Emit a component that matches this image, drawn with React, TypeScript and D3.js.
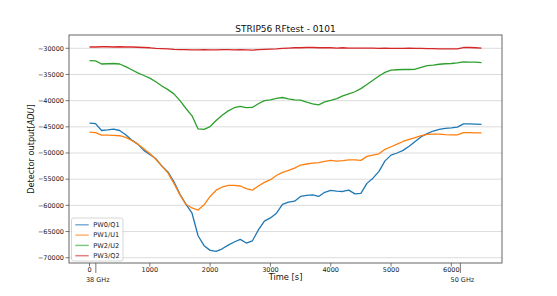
import React from "react";
import * as d3 from "d3";

// time axis in seconds, one sample every 100 s
const times = d3.range(0, 6501, 100);

const pw0q1 = [
  -44300, -44400, -45700, -45600, -45450, -45700, -46500, -47500, -48300, -49500,
  -50300, -51100, -52500, -53600, -55500, -57900, -59800, -61500, -65800, -67700,
  -68600, -68800, -68300, -67600, -67000, -66500, -67200, -66800, -64700, -63000,
  -62400, -61500, -59800, -59400, -59200, -58300, -58100, -58000, -58300, -57500,
  -57150, -57300, -57350, -57100, -57800, -57700, -55800, -54800, -53500, -51500,
  -50400, -50000, -49500, -48700, -47800, -46900, -46300, -45800, -45500, -45300,
  -45200, -45050, -44450, -44450, -44500, -44550,
];

const pw1u1 = [
  -46000, -46100, -46600, -46600, -46650, -46700, -47000, -47600, -48300, -49200,
  -50100, -51200, -52500, -53800, -55800, -58000, -59800, -60500, -60900, -59900,
  -58300, -57100, -56500, -56200, -56200, -56300, -56800, -57100, -56300, -55600,
  -55100, -54300, -53700, -53300, -52900, -52300, -52100, -51950, -51850, -51600,
  -51400, -51550, -51450, -51300, -51300, -51400, -50650, -50400, -50150, -49300,
  -48800, -48300, -47800, -47400, -47050, -46700, -46450, -46400, -46400, -46500,
  -46550, -46550, -46100, -46100, -46150, -46150,
];

const pw2u2 = [
  -32350, -32400, -33000, -32950, -32900, -33000, -33500, -34100, -34700, -35200,
  -35700, -36400, -37200, -37900, -38700, -40000, -41500, -42900, -45400, -45500,
  -44950, -43800, -42800, -41950, -41350, -41100, -41350, -41300, -40600, -40000,
  -39850, -39550, -39400, -39650, -39850, -39900, -40300, -40600, -40800, -40250,
  -39950, -39600, -39100, -38700, -38300, -37700, -36900, -36100, -35300, -34600,
  -34150, -34100, -34050, -34050, -34000, -33650, -33300, -33200, -33050, -32950,
  -32900, -32800, -32600, -32650, -32650, -32750,
];

const pw3q2 = [
  -29750, -29750, -29700, -29700, -29750, -29700, -29750, -29750, -29800, -29850,
  -29900, -30000, -30050, -30100, -30200, -30250, -30250, -30300, -30300, -30250,
  -30300, -30300, -30250, -30250, -30300, -30250, -30300, -30350, -30250, -30200,
  -30150, -30100, -30000, -29950, -29900, -29900, -29850, -29850, -29900, -29900,
  -29900, -29950, -29900, -29950, -29950, -29950, -29950, -29950, -30000, -29950,
  -30000, -30000, -30000, -29950, -30000, -30000, -30050, -30050, -30100, -30100,
  -30100, -30100, -29850, -29850, -29900, -29950,
];

const seriesNames = ["PW0/Q1", "PW1/U1", "PW2/U2", "PW3/Q2"];
const seriesValues = [pw0q1, pw1u1, pw2u2, pw3q2];
const colors = ["#1f77b4", "#ff7f0e", "#2ca02c", "#d62728"];

const xTicks = [0, 1000, 2000, 3000, 4000, 5000, 6000];
const yTicks = [-70000, -65000, -60000, -55000, -50000, -45000, -40000, -35000, -30000];
const freqTicks = [105, 6150];
const freqLabels = ["38 GHz", "50 GHz"];

const width = 557;
const height = 296;
const margin = { top: 35, right: 55, bottom: 33, left: 69 };
const font = "DejaVu Sans, sans-serif";

const fmt = (v: number) => (v < 0 ? "\u2212" + Math.abs(v) : String(v));

const App = () => {
  const x = d3.scaleLinear().domain([-340, 6840]).range([margin.left, width - margin.right]);
  const y = d3.scaleLinear().domain([-71010, -27460]).range([height - margin.bottom, margin.top]);

  const line = d3
    .line<number>()
    .x((d, i) => x(times[i]))
    .y((d) => y(d));

  const x0 = margin.left;
  const x1 = width - margin.right;
  const y0 = height - margin.bottom;
  const y1 = margin.top;

  return (
    <svg
      width={width}
      height={height}
      style={{ position: "absolute", left: 0, top: 0, background: "#fff" }}
      fontFamily={font}
    >
      {/* grid */}
      {yTicks.map((t) => (
        <line key={"g" + t} x1={x0} x2={x1} y1={y(t)} y2={y(t)} stroke="#dcdcdc" strokeWidth={1} />
      ))}

      {/* series */}
      {seriesValues.map((vals, i) => (
        <path
          key={seriesNames[i]}
          d={line(vals) || ""}
          fill="none"
          stroke={colors[i]}
          strokeWidth={1.3}
          strokeLinejoin="round"
        />
      ))}

      {/* frame */}
      <rect x={x0} y={y1} width={x1 - x0} height={y0 - y1} fill="none" stroke="#555" strokeWidth={0.9} />

      {/* y axis */}
      {yTicks.map((t) => (
        <g key={"y" + t}>
          <line x1={x0 - 3.5} x2={x0} y1={y(t)} y2={y(t)} stroke="#555" strokeWidth={0.8} />
          <text x={x0 - 5} y={y(t)} dy="0.35em" textAnchor="end" fontSize={6.5} fill="#222">
            {fmt(t)}
          </text>
        </g>
      ))}

      {/* x axis */}
      {xTicks.map((t) => (
        <g key={"x" + t}>
          <line x1={x(t)} x2={x(t)} y1={y0} y2={y0 + 3.5} stroke="#555" strokeWidth={0.8} />
          <text x={x(t)} y={y0 + 8.5} textAnchor="middle" fontSize={6.5} fill="#222">
            {fmt(t)}
          </text>
        </g>
      ))}

      {/* frequency ticks */}
      {freqTicks.map((t, i) => (
        <g key={"f" + t}>
          <line x1={x(t)} x2={x(t)} y1={y0} y2={y0 + 10} stroke="#555" strokeWidth={0.8} />
          <text x={x(t) + 2} y={y0 + 18.5} textAnchor="middle" fontSize={6.5} fill="#222">
            {freqLabels[i]}
          </text>
        </g>
      ))}

      {/* labels */}
      <text x={(x0 + x1) / 2} y={32} textAnchor="middle" fontSize={9} fill="#111">
        STRIP56 RFtest - 0101
      </text>
      <text x={(x0 + x1) / 2} y={280} textAnchor="middle" fontSize={8.3} fill="#111">
        Time [s]
      </text>
      <text
        transform={`translate(34, ${(y0 + y1) / 2}) rotate(-90)`}
        textAnchor="middle"
        fontSize={8.2}
        fill="#111"
      >
        Detector output[<tspan fontStyle="italic">ADU</tspan>]
      </text>

      {/* legend */}
      <g>
        <rect x={71.5} y={218} width={51.5} height={43} rx={2} fill="#fff" fillOpacity={0.85} stroke="#ccc" strokeWidth={0.8} />
        {seriesNames.map((n, i) => (
          <g key={"l" + n}>
            <line
              x1={75.3}
              x2={88.7}
              y1={224.8 + i * 10.3}
              y2={224.8 + i * 10.3}
              stroke={colors[i]}
              strokeOpacity={0.6}
              strokeWidth={1.5}
            />
            <text x={93.3} y={224.8 + i * 10.3} dy="0.35em" fontSize={6.6} fill="#222">
              {n}
            </text>
          </g>
        ))}
      </g>
    </svg>
  );
};

export default App;
